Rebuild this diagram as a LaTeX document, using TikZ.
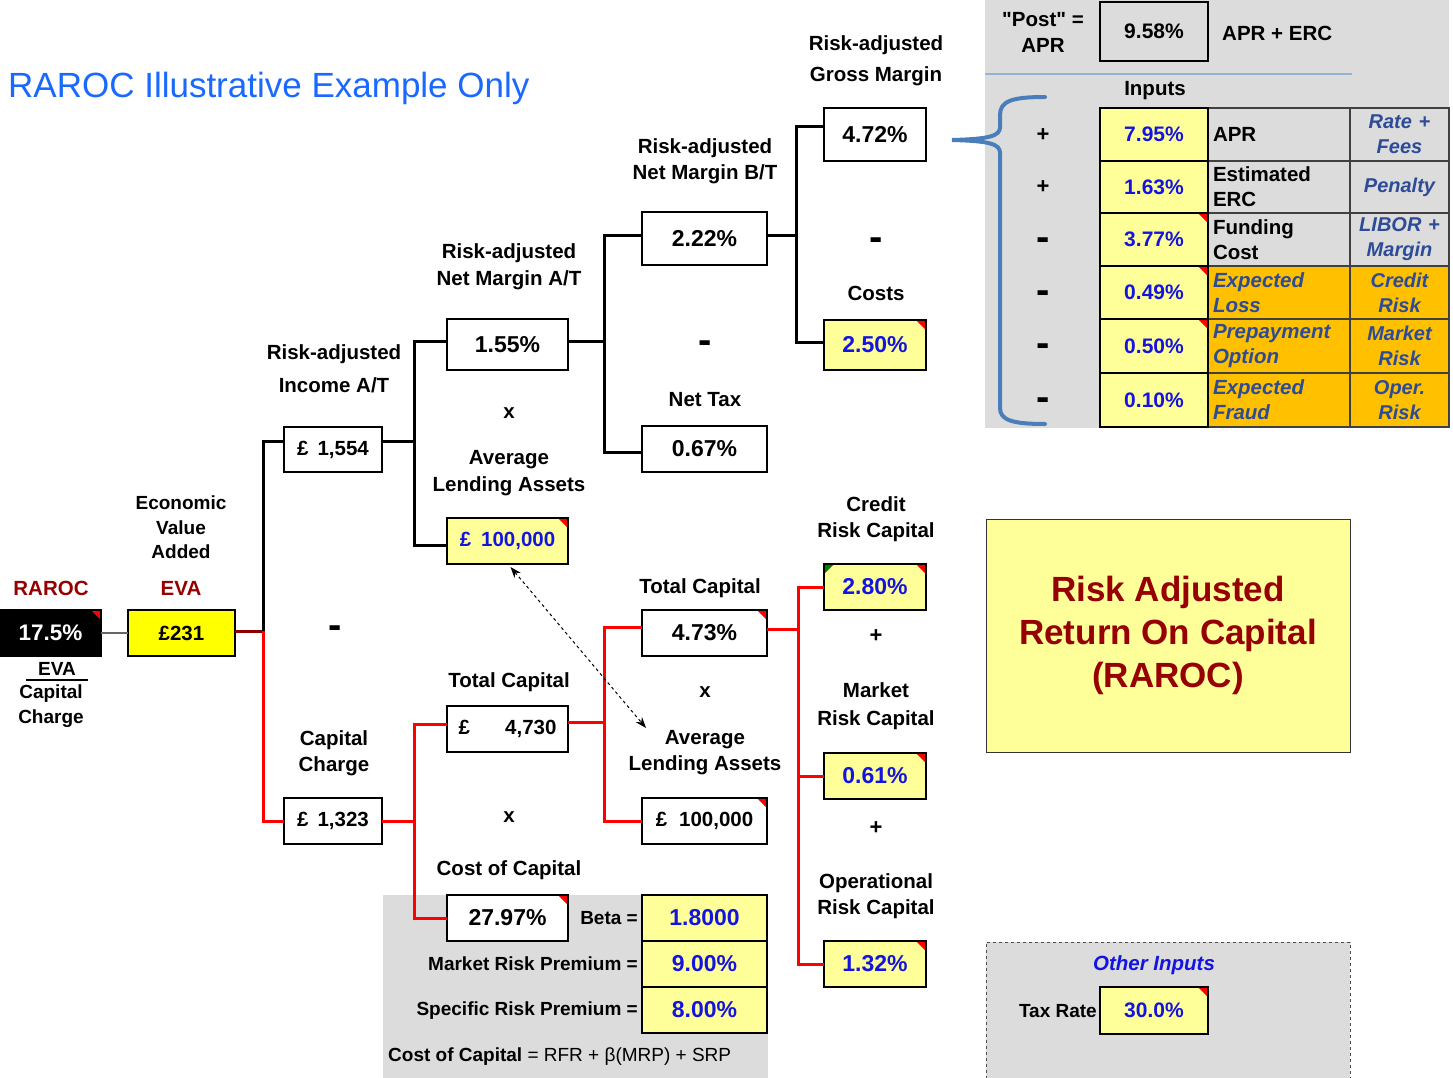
\documentclass[tikz,border=0pt]{standalone}
\usepackage{fontspec}
\setmainfont{Liberation Sans}
\newfontfamily\qfont{Liberation Sans}
\usetikzlibrary{arrows.meta}
\definecolor{lyel}{HTML}{FFFF99}
\definecolor{byel}{HTML}{FFFF00}
\definecolor{tblue}{RGB}{20,20,225}
\definecolor{ttlblue}{RGB}{25,105,255}
\definecolor{dred}{RGB}{150,0,0}
\definecolor{panel}{RGB}{220,220,220}
\definecolor{ital}{RGB}{45,75,150}
\definecolor{orng}{HTML}{FFC000}
\definecolor{brace}{RGB}{74,126,187}
\definecolor{sep}{RGB}{149,179,215}
\newcommand\rcorner[2][red]{\fill[#1] ([shift={(-9,1.2)}]#2.north east) -- ([shift={(-1.2,1.2)}]#2.north east) -- ([shift={(-1.2,9)}]#2.north east) -- cycle;}
\newcommand\gcorner[1]{\fill[green!50!black] ([shift={(1.2,1.2)}]#1.north west) -- ([shift={(9,1.2)}]#1.north west) -- ([shift={(1.2,9)}]#1.north west) -- cycle;}
\begin{document}
\begin{tikzpicture}[x=1pt,y=-1pt,
  box/.style={draw=black, line width=2.2pt, fill=white, outer sep=0pt, inner sep=0pt, minimum height=46pt, font=\bfseries\fontsize{23}{27}\selectfont},
  pbox/.style={box, font=\bfseries\fontsize{20.5}{25}\selectfont},
  ybox/.style={box, fill=lyel, text=tblue},
  lbl/.style={font=\bfseries\fontsize{20.5}{#1}\selectfont, align=center, inner sep=0pt},
  lbl/.default=26,
  slbl/.style={font=\bfseries\fontsize{19}{#1}\selectfont, align=center, inner sep=0pt},
  slbl/.default=25,
  op/.style={font=\bfseries\fontsize{22}{26}\selectfont, inner sep=0pt},
  minus/.style={font=\bfseries\fontsize{40}{44}\selectfont, inner sep=0pt},
  tree/.style={line width=3pt},
  rtree/.style={tree, draw=red},
  c2/.style={draw=black!75, line width=1.3pt, outer sep=0pt, inner xsep=5pt, inner ysep=0pt, text width=132pt, align=left, minimum height=#1, font=\bfseries\fontsize{20.5}{25}\selectfont},
  c3/.style={draw=black!75, line width=1.3pt, outer sep=0pt, inner xsep=4pt, inner ysep=0pt, text width=91pt, align=center, minimum height=#1, text=ital, font=\bfseries\itshape\fontsize{20}{25}\selectfont},
  tc/.style={ybox, minimum width=108pt, minimum height=#1, font=\bfseries\fontsize{21}{25}\selectfont}
]
\useasboundingbox (0,0) rectangle (1453,1078);

% ---------- backgrounds ----------
\fill[panel] (985,0) rectangle (1449,428);
\draw[sep, line width=2pt] (985,74) -- (1352,74);
\fill[panel] (383,895) rectangle (768,1078);

% ---------- title ----------
\node[anchor=west, inner sep=0pt, text=ttlblue, font=\fontsize{35}{40}\selectfont] (title) at (8,88) {RAROC Illustrative Example Only};

% ---------- RAROC / EVA ----------
\node[lbl, text=dred] (lraroc) at (51,588) {RAROC};
\node[box, fill=black, text=white, minimum width=101pt, font=\bfseries\fontsize{22.5}{27}\selectfont] (n175) at (50.5,633) {17.5\%};
\node[slbl] (leva1) at (57,669) {EVA};
\draw[line width=2pt] ([shift={(-31,11)}]leva1.center) -- ([shift={(31,11)}]leva1.center);
\node[slbl] (lcc) at (51,706.5) {Capital\\Charge};
\node[slbl=24.5] (lecon) at (181,527.5) {Economic\\Value\\Added};
\node[lbl, text=dred] (leva) at (181,588) {EVA};
\node[box, fill=byel, minimum width=107pt, font=\bfseries\fontsize{20.5}{25}\selectfont] (neva) at (181.5,633) {£231};
\draw[black!60, line width=2.5pt] (n175.east) -- (neva.west);

\coordinate (j0) at (263,631);
\draw[tree, draw=red!55!black] (neva.east |- j0) -- (j0);

% ---------- upper (black) tree ----------
\node[lbl=33] (linc) at (334,368.5) {Risk-adjusted\\Income A/T};
\node[pbox, minimum width=98pt, minimum height=45pt] (n1554) at (333,449.5) {£\hspace{9pt}1,554};
\node[minus] (m1) at (335,632) {-};

\node[lbl=27] (lnma) at (509,266.5) {Risk-adjusted\\Net Margin A/T};
\node[box, minimum width=121pt, minimum height=51pt] (n155) at (507.5,344.5) {1.55\%};
\node[op, font=\bfseries\fontsize{20.5}{25}\selectfont] (x1) at (509,413) {x};
\node[lbl=27] (lala1) at (509,473.5) {Average\\Lending Assets};
\node[ybox, minimum width=121pt, font=\bfseries\fontsize{20.5}{25}\selectfont] (nala) at (507.5,541) {£\hspace{10pt}100,000};

\node[lbl] (lnmb) at (705,161) {Risk-adjusted\\Net Margin B/T};
\node[box, minimum width=125pt, minimum height=53pt] (n222) at (704.5,238.5) {2.22\%};
\node[minus] (m2) at (705,347) {-};
\node[lbl] (lntax) at (705,400) {Net Tax};
\node[box, minimum width=125pt] (n067) at (704.5,449) {0.67\%};

\node[lbl=31] (lgm) at (876,60.5) {Risk-adjusted\\Gross Margin};
\node[box, minimum width=102pt, minimum height=53pt] (n472) at (875,134.5) {4.72\%};
\node[minus] (m3) at (876,244) {-};
\node[lbl] (lcost) at (876,293) {Costs};
\node[ybox, minimum width=102pt, minimum height=50pt] (n250) at (875,345) {2.50\%};

\coordinate (j1) at (414,441);
\coordinate (j2) at (604,341);
\coordinate (j3) at (796,235);
\draw[tree] ([yshift=8.5pt]n1554.west) -| (j0);
\draw[tree] ([yshift=8.5pt]n1554.east) -- (j1);
\draw[tree] ([yshift=3.5pt]n155.west) -| (j1);
\draw[tree] ([yshift=-4pt]nala.west) -| (j1);
\draw[tree] ([yshift=3.5pt]n155.east) -- (j2);
\draw[tree] ([yshift=3.5pt]n222.west) -| (j2);
\draw[tree] ([yshift=-3pt]n067.west) -| (j2);
\draw[tree] ([yshift=3.5pt]n222.east) -- (j3);
\draw[tree] ([yshift=7.5pt]n472.west) -| (j3);
\draw[tree] ([yshift=3pt]n250.west) -| (j3);

% ---------- lower (red) tree ----------
\node[lbl] (lcch) at (334,753) {Capital\\Charge};
\node[pbox, minimum width=98pt] (n1323) at (333,821) {£\hspace{9pt}1,323};

\node[lbl] (ltc1) at (509,682) {Total Capital};
\node[pbox, minimum width=121pt] (n4730) at (507.5,729) {\makebox[98pt]{£\hfill 4,730}};
\node[op, font=\bfseries\fontsize{20.5}{25}\selectfont] (x2) at (509,817) {x};
\node[lbl] (lcoc) at (509,870) {Cost of Capital};
\node[box, minimum width=121pt] (n2797) at (507.5,918) {27.97\%};

\node[lbl] (ltc2) at (700,588) {Total Capital};
\node[box, minimum width=125pt] (n473) at (704.5,633) {4.73\%};
\node[op, font=\bfseries\fontsize{20.5}{25}\selectfont] (x3) at (705,692) {x};
\node[lbl] (lala2) at (705,753) {Average\\Lending Assets};
\node[pbox, minimum width=125pt] (n100b) at (704.5,821) {£\hspace{12pt}100,000};

\node[lbl] (lcrc) at (876,519) {Credit\\Risk Capital};
\node[ybox, minimum width=102pt] (n280) at (875,587) {2.80\%};
\node[op] (p1) at (876,636) {+};
\node[lbl=28] (lmrc) at (876,706) {Market\\Risk Capital};
\node[ybox, minimum width=102pt] (n061) at (875,776) {0.61\%};
\node[op] (p2) at (876,828) {+};
\node[lbl] (lorc) at (876,896) {Operational\\Risk Capital};
\node[ybox, minimum width=102pt] (n132) at (875,964) {1.32\%};

\coordinate (j4) at (414,821);
\coordinate (j5) at (604,722);
\coordinate (j6) at (798,629);
\draw[rtree] (n1323.west) -| (j0);
\draw[rtree] (n1323.east) -- (j4);
\draw[rtree] ([yshift=5pt]n4730.west) -| (j4);
\draw[rtree] (n2797.west) -| (j4);
\draw[rtree] ([yshift=7pt]n4730.east) -- (j5);
\draw[rtree] ([yshift=6pt]n473.west) -| (j5);
\draw[rtree] (n100b.west) -| (j5);
\draw[rtree] ([yshift=4pt]n473.east) -- (j6);
\draw[rtree] (n280.west) -| (j6);
\draw[rtree] (n061.west) -| (j6);
\draw[rtree] (n132.west) -| (j6);

% dashed double arrow
\coordinate (arrEnd) at (646,728);
\draw[dashed, line width=1pt, {Stealth[length=11pt,width=8pt]}-{Stealth[length=11pt,width=8pt]}] ([xshift=3pt,yshift=-3pt]nala.south) -- (arrEnd);

% ---------- cost of capital inputs ----------
\node[ybox, minimum width=125pt] (nbeta) at (704.5,918) {1.8000};
\node[ybox, minimum width=125pt] (nmrp) at (704.5,964) {9.00\%};
\node[ybox, minimum width=125pt] (nsrp) at (704.5,1010) {8.00\%};
\node[slbl, anchor=east] (lbeta) at (638,918) {Beta =};
\node[slbl, anchor=east] (lmrp) at (638,964) {Market Risk Premium =};
\node[slbl, anchor=east] (lsrp) at (638,1011) {Specific Risk Premium =};
\node[anchor=west, inner sep=0pt, font=\fontsize{19}{23}\selectfont] (lform) at (388,1057) {\textbf{Cost of Capital} = RFR + β(MRP) + SRP};

% ---------- top-right panel ----------
\node[lbl] (lpost) at (1043,32) {{\qfont\bfseries "Post" =}\\APR};
\node[box, fill=none, minimum width=108pt, minimum height=59pt, font=\bfseries\fontsize{21}{25}\selectfont] (npost) at (1154,31.5) {9.58\%};
\node[lbl, anchor=west] (lapr) at (1222,33) {APR + ERC};
\node[lbl] (linp) at (1155,91) {Inputs};

\node[c2=53pt, fill=panel] (c2a) at (1279,134.5) {APR};
\node[c3=53pt, fill=panel] (c3a) at (1399.5,134.5) {Rate +\\Fees};
\node[c2=52pt, fill=panel] (c2b) at (1279,187) {Estimated\\ERC};
\node[c3=52pt, fill=panel] (c3b) at (1399.5,187) {Penalty};
\node[c2=53pt, fill=panel] (c2c) at (1279,239.5) {Funding\\Cost};
\node[c3=53pt, fill=panel] (c3c) at (1399.5,239.5) {LIBOR +\\Margin};
\node[c2=53pt, fill=orng, text=ital, font=\bfseries\itshape\fontsize{20.5}{25}\selectfont] (c2d) at (1279,292.5) {Expected\\Loss};
\node[c3=53pt, fill=orng] (c3d) at (1399.5,292.5) {Credit\\Risk};
\node[c2=54pt, fill=orng, text=ital, font=\bfseries\itshape\fontsize{20.5}{25}\selectfont] (c2e) at (1279,346) {Prepayment\\Option};
\node[c3=54pt, fill=orng] (c3e) at (1399.5,346) {Market\\Risk};
\node[c2=54pt, fill=orng, text=ital, font=\bfseries\itshape\fontsize{20.5}{25}\selectfont] (c2f) at (1279,400) {Expected\\Fraud};
\node[c3=54pt, fill=orng] (c3f) at (1399.5,400) {Oper.\\Risk};

\node[tc=53pt] (t1) at (1154,134.5) {7.95\%};
\node[tc=52pt] (t2) at (1154,187) {1.63\%};
\node[tc=53pt] (t3) at (1154,239.5) {3.77\%};
\node[tc=53pt] (t4) at (1154,292.5) {0.49\%};
\node[tc=54pt] (t5) at (1154,346) {0.50\%};
\node[tc=54pt] (t6) at (1154,400) {0.10\%};

\node[op] (s1) at (1043,135) {+};
\node[op] (s2) at (1043,187) {+};
\node[minus] (s3) at (1043,244) {-};
\node[minus] (s4) at (1043,297) {-};
\node[minus] (s5) at (1043,350) {-};
\node[minus] (s6) at (1043,404) {-};

\draw[brace, line width=4pt, line cap=round]
  (1045,97) .. controls (1012,97) and (1000,101) .. (1000,115) -- (1000,127)
  .. controls (1000,136) and (990,139) .. (952,140)
  .. controls (990,141) and (1000,144) .. (1000,153) -- (1000,408)
  .. controls (1000,420) and (1012,424) .. (1045,424);

% ---------- RAROC box ----------
\node[draw=black!80, line width=1pt, fill=lyel, minimum width=364pt, minimum height=233pt, align=center, text=dred, font=\bfseries\fontsize{35}{43}\selectfont] (rbox) at (1168,635.5) {Risk Adjusted\\Return On Capital\\(RAROC)};

% ---------- other inputs ----------
\node[draw=black!70, dashed, line width=1pt, fill=panel, minimum width=364pt, minimum height=140pt] (obox) at (1168,1012) {};
\node[lbl, text=tblue, font=\bfseries\itshape\fontsize{20.5}{25}\selectfont] (lother) at (1154,965) {Other Inputs};
\node[slbl, anchor=east] (ltax) at (1097,1011) {Tax Rate};
\node[tc=47pt] (ntax) at (1154,1010.5) {30.0\%};

% ---------- corners ----------
\rcorner{n175}
\rcorner{nala}
\rcorner{n250}
\rcorner{n2797}
\rcorner{n473}
\rcorner{n100b}
\rcorner{n280}
\gcorner{n280}
\rcorner{n061}
\rcorner{n132}
\rcorner{t3}
\rcorner{t4}
\rcorner{t5}
\rcorner{ntax}
\end{tikzpicture}
\end{document}
